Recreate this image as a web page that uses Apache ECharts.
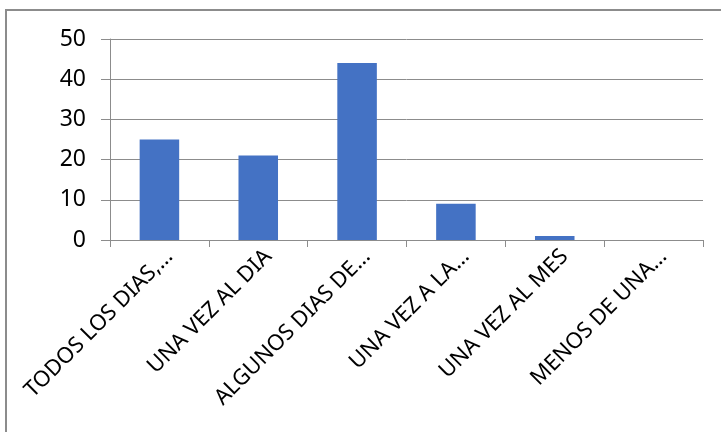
<!DOCTYPE html>
<html>
<head>
<meta charset="utf-8">
<title>Frecuencia</title>
<script src="https://cdn.jsdelivr.net/npm/echarts@6/dist/echarts.min.js"></script>
<style>
  body { margin: 0; background: #fff; }
  #frame { position: absolute; left: 5px; top: 9px; width: 716px; height: 423px;
           border-top: 2px solid #8c8c8c; border-left: 2px solid #8c8c8c; box-sizing: border-box; }
  #main { position: absolute; left: 0; top: 0; width: 721px; height: 432px; }
</style>
</head>
<body>
<div id="frame"></div>
<div id="main"></div>
<script type="text/javascript">
// categorias (tal como se ven, recortadas)
var categorias = ['TODOS LOS DIAS,…', 'UNA VEZ AL DIA', 'ALGUNOS DIAS DE…', 'UNA VEZ A LA…', 'UNA VEZ AL MES', 'MENOS DE UNA…'];
var valores = [25, 21, 44, 9, 1, 0];
var yTicks = [0, 10, 20, 30, 40, 50];

var myChart = echarts.init(document.getElementById('main'));

var option = {
  animation: false,
  grid: { left: 110, right: 18, top: 39, bottom: 192 },
  xAxis: {
    type: 'category',
    data: categorias,
    axisLine: { lineStyle: { color: '#8c8c8c', width: 1 } },
    axisTick: { show: true, length: 7, lineStyle: { color: '#8c8c8c' } },
    axisLabel: {
      interval: 0,
      rotate: 45,
      margin: 23,
      color: '#000',
      fontFamily: 'Noto Sans',
      fontSize: 22,
      padding: [0, -14, 0, 0]
    }
  },
  yAxis: {
    type: 'value',
    min: yTicks[0],
    max: yTicks[yTicks.length - 1],
    interval: 10,
    axisLine: { show: true, lineStyle: { color: '#8c8c8c' } },
    axisTick: { show: true, length: 9, lineStyle: { color: '#8c8c8c' } },
    splitLine: { lineStyle: { color: '#8c8c8c', width: 1 } },
    axisLabel: { color: '#000', fontFamily: 'Noto Sans', fontSize: 23, margin: 24 }
  },
  series: [{
    type: 'bar',
    data: valores,
    barWidth: '40%',
    itemStyle: { color: '#4472C4' }
  }]
};

myChart.setOption(option);
</script>
</body>
</html>
